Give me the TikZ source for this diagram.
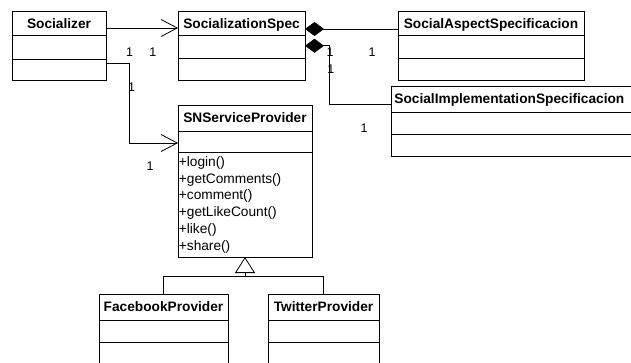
\documentclass[tikz,border=0pt]{standalone}
\usepackage{fontspec}
\setmainfont{Liberation Sans}
\usetikzlibrary{arrows.meta}
\begin{document}
\begin{tikzpicture}[x=1pt,y=-1pt,
  line width=0.8pt,
  box/.style={draw, line width=0.8pt, inner sep=0pt, outer sep=0pt},
  ttl/.style={font=\fontsize{13.7}{16}\selectfont\bfseries, anchor=base, inner sep=0pt},
  meth/.style={font=\fontsize{13.7}{16}\selectfont, anchor=base west, inner sep=0pt},
  mult/.style={font=\fontsize{12.5}{14}\selectfont, anchor=base, inner sep=0pt},
  assoc/.style={-{Straight Barb[length=16pt,width=17pt]}},
  compo/.style={{Diamond[length=19pt,width=14pt]}-},
  inh/.style={-{Triangle[open,length=16pt,width=20pt]}}
]
\useasboundingbox (0,0) rectangle (631,362);

% Boxes
\node[box, minimum width=94pt, minimum height=69.5pt] (soc) at (59,45.75) {};
\node[box, minimum width=127pt, minimum height=69.5pt] (spec) at (241.5,45.75) {};
\node[box, minimum width=186pt, minimum height=69.5pt] (aspect) at (491,45.75) {};
\node[box, minimum width=249pt, minimum height=70pt] (impl) at (515.5,121) {};
\node[box, minimum width=134pt, minimum height=152pt] (snsp) at (245,181) {};
\node[box, minimum width=129pt, minimum height=81pt] (fb) at (163.5,334.5) {};
\node[box, minimum width=111pt, minimum height=81pt] (tw) at (323.5,334.5) {};

% Dividers
\draw (soc.west |- 0,35) -- (soc.east |- 0,35);
\draw (soc.west |- 0,59) -- (soc.east |- 0,59);
\draw (spec.west |- 0,35.5) -- (spec.east |- 0,35.5);
\draw (spec.west |- 0,58.5) -- (spec.east |- 0,58.5);
\draw (aspect.west |- 0,35) -- (aspect.east |- 0,35);
\draw (aspect.west |- 0,58) -- (aspect.east |- 0,58);
\draw (impl.west |- 0,112) -- (impl.east |- 0,112);
\draw (impl.west |- 0,134) -- (impl.east |- 0,134);
\draw (snsp.west |- 0,131) -- (snsp.east |- 0,131);
\draw (snsp.west |- 0,152) -- (snsp.east |- 0,152);
\draw (fb.west |- 0,320) -- (fb.east |- 0,320);
\draw (fb.west |- 0,342) -- (fb.east |- 0,342);
\draw (tw.west |- 0,320) -- (tw.east |- 0,320);
\draw (tw.west |- 0,342) -- (tw.east |- 0,342);

% Titles
\node[ttl] (socT) at (59,28.3) {Socializer};
\node[ttl] (specT) at (241.5,28.3) {SocializationSpec};
\node[ttl] (aspectT) at (491,28.3) {SocialAspectSpecificacion};
\node[ttl, anchor=base west] (implT) at (394,103.5) {SocialImplementationSpecificacion};
\node[ttl] (snspT) at (245,122.3) {SNServiceProvider};
\node[ttl] (fbT) at (163.5,311) {FacebookProvider};
\node[ttl] (twT) at (323.5,311) {TwitterProvider};

% Methods
\node[meth] (m1) at (178.5,166.3) {+login()};
\node[meth] (m2) at (178.5,183.1) {+getComments()};
\node[meth] (m3) at (178.5,199.9) {+comment()};
\node[meth] (m4) at (178.5,216.7) {+getLikeCount()};
\node[meth] (m5) at (178.5,233.5) {+like()};
\node[meth] (m6) at (178.5,250.3) {+share()};

% Connectors
\draw[assoc] ([yshift=17.75pt]soc.east) -- ([yshift=17.75pt]spec.west);
\coordinate (bendA) at (129.5,100);
\draw[assoc] ([yshift=-17.25pt]soc.east) -| (bendA) |- ([yshift=38pt]snsp.west);
\draw[compo] ([yshift=16.75pt]spec.east) -- ([yshift=16.75pt]aspect.west);
\coordinate (bendB) at (329.5,80);
\draw[compo] (spec.east) -| (bendB) |- ([yshift=17pt]impl.west);
\coordinate (joinG) at ([yshift=-19pt]snsp.south);
\draw[inh] (fb.north) |- (joinG) -- (snsp.south);
\draw (tw.north) |- (joinG);

% Multiplicities
\node[mult] (n1) at (129.6,56.2) {1};
\node[mult] (n2) at (152.9,56.2) {1};
\node[mult] (n3) at (131.6,91.8) {1};
\node[mult] (n4) at (150.1,170.5) {1};
\node[mult] (n5) at (330,56.2) {1};
\node[mult] (n6) at (330.8,73.8) {1};
\node[mult] (n7) at (372.2,56.2) {1};
\node[mult] (n8) at (364.2,132.2) {1};
\end{tikzpicture}
\end{document}
